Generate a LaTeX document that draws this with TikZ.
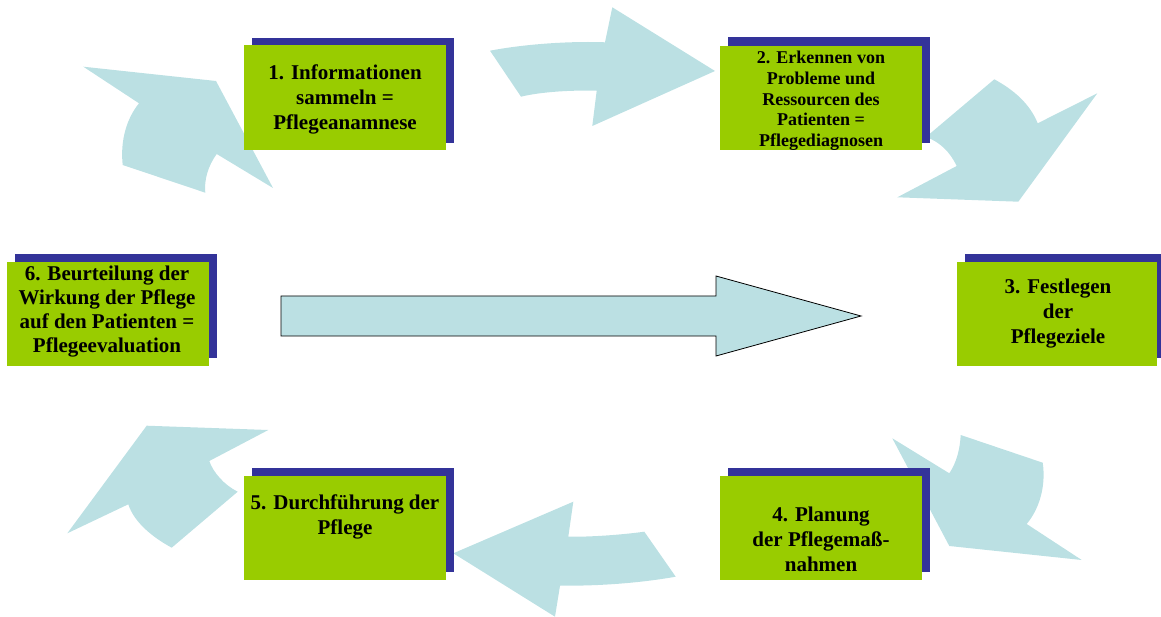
\documentclass[tikz,border=0pt]{standalone}
\usepackage{fontspec}
\setmainfont{Liberation Serif}
\definecolor{boxgreen}{HTML}{99CC00}
\definecolor{shadowblue}{HTML}{333399}
\definecolor{arrowblue}{HTML}{BBE0E3}
\tikzset{
  gbox/.style={fill=boxgreen, draw=none, inner sep=0pt, outer sep=0pt, minimum width=202pt, minimum height=105pt},
  sbox/.style={fill=shadowblue},
  cyc/.style={fill=arrowblue, draw=none},
  lbl/.style={align=center, font=\bfseries\fontsize{21}{25}\selectfont, inner sep=0pt},
}
\begin{document}
\begin{tikzpicture}[x=1pt, y=-1pt]
\useasboundingbox (0,0) rectangle (1161,617);
% curved cycle arrows
% 6 -> 1
\path[cyc] (122.7,165) .. controls (120,140) and (127,118) .. (139,103.3) -- (83.3,66.7) -- (216,81) -- (273,188) -- (216.7,154) .. controls (208,166) and (204,180) .. (205.3,192.7) -- cycle;
% 1 -> 2
\path[cyc] (490,50.7) .. controls (525,44) and (570,41) .. (605,42.3) -- (612.3,7.3) -- (715,71) -- (592.3,126) -- (596.7,90.7) .. controls (570,90) and (540,92) .. (521,96.7) -- cycle;
% 2 -> 3
\path[cyc] (926,137) -- (994.3,79.3) .. controls (1014,90) and (1030,104) .. (1037.7,123.3) -- (1097.3,93.3) -- (1018.3,201.7) -- (897.3,197.3) -- (956.7,166) .. controls (950,152) and (940,142) .. (926,137) -- cycle;
% 3 -> 4
\path[cyc] (960.7,435) -- (1042.7,462.7) .. controls (1046,485) and (1040,508) .. (1026.7,524) -- (1081.7,560) -- (949.3,546) -- (892.3,438.3) -- (949.3,473.3) .. controls (957,462) and (960,448) .. (960.7,435) -- cycle;
% 4 -> 5
\path[cyc] (644.3,531.7) -- (675.7,576.7) .. controls (640,583) and (600,586) .. (560,585.7) -- (555,616.7) -- (453.3,553.3) -- (573.3,501.7) -- (568.3,536.7) .. controls (590,537) and (620,535) .. (644.3,531.7) -- cycle;
% 5 -> 6
\path[cyc] (237.7,491.7) -- (171.7,547.7) .. controls (152,537) and (134,522) .. (128.3,504.3) -- (67.3,533.3) -- (146.7,425.7) -- (268.3,430) -- (209.3,461) .. controls (213,472) and (224,485) .. (237.7,491.7) -- cycle;
% central arrow
\draw[fill=arrowblue, draw=black, line width=0.8pt] (281,296) -- (716,296) -- (716,276) -- (861,316) -- (716,356) -- (716,336) -- (281,336) -- cycle;
% box shadows
\fill[sbox] (252,38) rectangle (454,143);
\fill[sbox] (728,37) rectangle (930,143);
\fill[sbox] (965,254) rectangle (1165,358);
\fill[sbox] (728,468) rectangle (930,572);
\fill[sbox] (252,468) rectangle (454,572);
\fill[sbox] (15,254) rectangle (217,358);
% boxes
\node[gbox] (b1) at (345,97.5) {};
\node[gbox, minimum height=104pt] (b2) at (821,98) {};
\node[gbox, minimum width=200pt, minimum height=104pt] (b3) at (1057,314) {};
\node[gbox, minimum height=104pt] (b4) at (821,528) {};
\node[gbox, minimum height=104pt] (b5) at (345,528) {};
\node[gbox, minimum height=104pt] (b6) at (108,314) {};
% labels
\node[lbl] (t1) at (345,99) {1. Informationen\\sammeln =\\Pflegeanamnese};
\begin{scope}
\clip (720,46) rectangle (922,150);
\node[lbl, font=\bfseries\fontsize{18}{20.7}\selectfont] (t2) at (821,101) {2. Erkennen von\\Probleme und\\Ressourcen des\\Patienten =\\Pflegediagnosen};
\end{scope}
\node[lbl] (t3) at (1058,314) {3. Festlegen\\der\\Pflegeziele};
\node[lbl] (t4) at (821,539) {4. Planung\\der Pflegema\ss-\\nahmen};
\node[lbl] (t5) at (345,517) {5. Durchf\"uhrung der\\Pflege};
\node[lbl, font=\bfseries\fontsize{21}{24.3}\selectfont] (t6) at (107,311.5) {6. Beurteilung der\\Wirkung der Pflege\\auf den Patienten =\\Pflegeevaluation};
\end{tikzpicture}
\end{document}
